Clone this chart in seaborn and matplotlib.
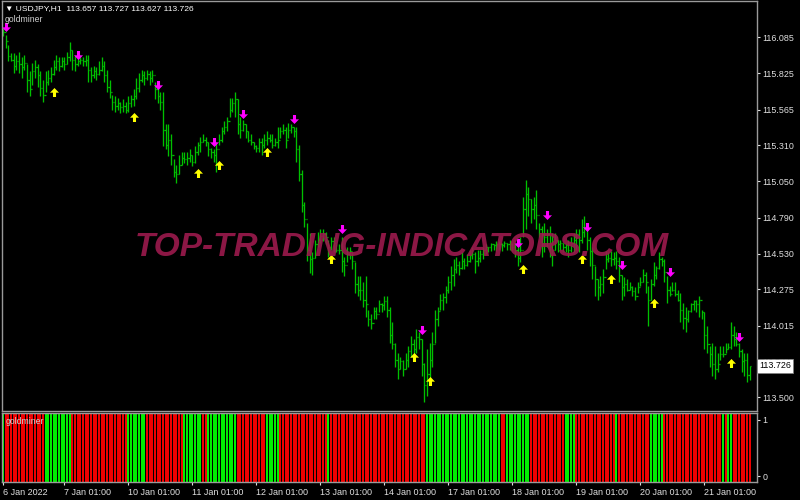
import matplotlib
matplotlib.use("Agg")
import matplotlib.pyplot as plt
import matplotlib.transforms as mtransforms
from matplotlib.path import Path
import numpy as np
import seaborn as sns

# === Data: USDJPY H1, 281 bars ===
closes = [
    116.12, 116.06, 115.95, 115.92, 115.88, 115.91, 115.89, 115.87, 115.90, 115.78,
    115.71, 115.84, 115.87, 115.81, 115.72, 115.67, 115.76, 115.79, 115.82, 115.87,
    115.91, 115.88, 115.91, 115.89, 115.94, 115.99, 115.92, 115.89, 115.91, 115.92,
    115.91, 115.92, 115.85, 115.81, 115.84, 115.82, 115.85, 115.88, 115.81, 115.73,
    115.69, 115.62, 115.59, 115.61, 115.58, 115.59, 115.56, 115.61, 115.64, 115.66,
    115.72, 115.78, 115.81, 115.79, 115.82, 115.79, 115.81, 115.71, 115.66, 115.62,
    115.42, 115.31, 115.35, 115.24, 115.12, 115.10, 115.17, 115.22, 115.21, 115.22,
    115.24, 115.19, 115.26, 115.31, 115.33, 115.35, 115.33, 115.28, 115.26, 115.24,
    115.28, 115.35, 115.41, 115.44, 115.48, 115.56, 115.61, 115.64, 115.46, 115.42,
    115.46, 115.41, 115.35, 115.33, 115.30, 115.29, 115.33, 115.31, 115.35, 115.36,
    115.35, 115.31, 115.33, 115.35, 115.41, 115.42, 115.35, 115.42, 115.44, 115.41,
    115.28, 115.10, 114.88, 114.78, 114.56, 114.49, 114.50, 114.60, 114.63, 114.66,
    114.67, 114.65, 114.58, 114.62, 114.61, 114.56, 114.56, 114.48, 114.45, 114.53,
    114.55, 114.48, 114.31, 114.27, 114.27, 114.20, 114.17, 114.06, 114.03, 114.12,
    114.10, 114.17, 114.16, 114.19, 114.13, 113.95, 113.88, 113.77, 113.70, 113.76,
    113.70, 113.77, 113.83, 113.88, 113.85, 113.93, 113.92, 113.74, 113.59, 113.67,
    113.77, 113.88, 114.06, 114.12, 114.20, 114.22, 114.27, 114.33, 114.38, 114.42,
    114.45, 114.43, 114.48, 114.45, 114.48, 114.52, 114.53, 114.48, 114.50, 114.53,
    114.56, 114.58, 114.58, 114.60, 114.59, 114.60, 114.60, 114.59, 114.61, 114.60,
    114.60, 114.58, 114.56, 114.50, 114.56, 114.85, 114.96, 114.92, 114.85, 114.88,
    114.81, 114.71, 114.67, 114.65, 114.67, 114.60, 114.56, 114.63, 114.60, 114.61,
    114.58, 114.59, 114.56, 114.61, 114.63, 114.67, 114.63, 114.69, 114.72, 114.63,
    114.55, 114.45, 114.35, 114.29, 114.31, 114.36, 114.49, 114.50, 114.49, 114.50,
    114.48, 114.38, 114.29, 114.31, 114.27, 114.29, 114.26, 114.23, 114.29, 114.33,
    114.38, 114.33, 114.20, 114.31, 114.38, 114.43, 114.49, 114.48, 114.40, 114.27,
    114.24, 114.27, 114.24, 114.20, 114.13, 114.07, 114.06, 114.12, 114.17, 114.19,
    114.17, 114.20, 114.11, 113.95, 113.88, 113.81, 113.74, 113.70, 113.74, 113.81,
    113.81, 113.85, 113.86, 113.95, 113.92, 113.88, 113.83, 113.76, 113.77, 113.657,
    113.726,
]
highs = [
    116.15, 116.10, 116.03, 115.97, 115.97, 115.96, 115.98, 115.94, 115.96, 115.89,
    115.84, 115.90, 115.92, 115.89, 115.84, 115.78, 115.84, 115.85, 115.87, 115.92,
    115.96, 115.94, 115.94, 115.94, 115.98, 116.05, 115.99, 115.96, 115.94, 115.96,
    115.94, 115.96, 115.96, 115.87, 115.88, 115.87, 115.91, 115.94, 115.91, 115.85,
    115.78, 115.67, 115.66, 115.65, 115.62, 115.64, 115.62, 115.66, 115.67, 115.71,
    115.79, 115.83, 115.85, 115.84, 115.85, 115.84, 115.85, 115.76, 115.72, 115.69,
    115.69, 115.46, 115.46, 115.39, 115.21, 115.17, 115.24, 115.26, 115.26, 115.26,
    115.28, 115.24, 115.30, 115.33, 115.37, 115.39, 115.37, 115.33, 115.29, 115.28,
    115.33, 115.39, 115.44, 115.48, 115.51, 115.65, 115.65, 115.69, 115.64, 115.51,
    115.49, 115.46, 115.41, 115.39, 115.33, 115.31, 115.36, 115.36, 115.39, 115.41,
    115.39, 115.39, 115.36, 115.44, 115.44, 115.46, 115.44, 115.47, 115.46, 115.44,
    115.44, 115.31, 115.13, 114.90, 114.75, 114.68, 114.54, 114.63, 114.69, 114.71,
    114.71, 114.69, 114.63, 114.65, 114.65, 114.60, 114.60, 114.65, 114.51, 114.58,
    114.58, 114.54, 114.47, 114.37, 114.37, 114.33, 114.37, 114.13, 114.10, 114.15,
    114.15, 114.20, 114.18, 114.23, 114.23, 114.15, 114.04, 113.89, 113.82, 113.79,
    113.77, 113.82, 113.87, 113.94, 113.92, 113.99, 113.97, 113.92, 113.75, 113.85,
    113.89, 113.97, 114.13, 114.15, 114.24, 114.25, 114.30, 114.37, 114.44, 114.49,
    114.51, 114.48, 114.54, 114.50, 114.53, 114.56, 114.58, 114.54, 114.56, 114.56,
    114.58, 114.60, 114.58, 114.61, 114.60, 114.62, 114.62, 114.61, 114.62, 114.61,
    114.63, 114.61, 114.61, 114.58, 114.65, 114.94, 115.06, 115.01, 114.92, 114.94,
    114.99, 114.75, 114.73, 114.75, 114.71, 114.73, 114.68, 114.68, 114.63, 114.63,
    114.61, 114.61, 114.63, 114.65, 114.68, 114.71, 114.71, 114.78, 114.80, 114.71,
    114.65, 114.58, 114.44, 114.35, 114.37, 114.42, 114.55, 114.54, 114.55, 114.54,
    114.55, 114.51, 114.38, 114.36, 114.35, 114.33, 114.30, 114.29, 114.33, 114.36,
    114.42, 114.40, 114.30, 114.35, 114.47, 114.44, 114.54, 114.51, 114.49, 114.37,
    114.30, 114.33, 114.33, 114.27, 114.25, 114.18, 114.15, 114.13, 114.18, 114.20,
    114.20, 114.23, 114.13, 114.11, 114.01, 113.87, 113.89, 113.87, 113.82, 113.87,
    113.87, 113.89, 113.89, 114.04, 114.01, 113.97, 113.89, 113.85, 113.82, 113.82,
    113.727,
]
lows = [
    116.09, 116.01, 115.91, 115.91, 115.83, 115.85, 115.83, 115.79, 115.85, 115.69,
    115.66, 115.74, 115.79, 115.73, 115.66, 115.62, 115.69, 115.74, 115.76, 115.81,
    115.85, 115.84, 115.87, 115.85, 115.89, 115.91, 115.85, 115.84, 115.88, 115.89,
    115.88, 115.88, 115.76, 115.76, 115.79, 115.78, 115.81, 115.84, 115.76, 115.69,
    115.65, 115.56, 115.55, 115.56, 115.54, 115.55, 115.54, 115.55, 115.58, 115.59,
    115.64, 115.69, 115.76, 115.74, 115.78, 115.74, 115.76, 115.64, 115.61, 115.56,
    115.30, 115.28, 115.23, 115.17, 115.08, 115.04, 115.10, 115.17, 115.18, 115.17,
    115.19, 115.16, 115.18, 115.24, 115.26, 115.33, 115.30, 115.23, 115.22, 115.19,
    115.12, 115.31, 115.33, 115.39, 115.41, 115.51, 115.55, 115.51, 115.39, 115.36,
    115.41, 115.36, 115.33, 115.31, 115.28, 115.26, 115.26, 115.24, 115.29, 115.31,
    115.33, 115.29, 115.30, 115.29, 115.36, 115.39, 115.29, 115.36, 115.40, 115.37,
    115.19, 115.05, 114.83, 114.72, 114.48, 114.39, 114.38, 114.50, 114.58, 114.61,
    114.62, 114.60, 114.51, 114.56, 114.54, 114.54, 114.53, 114.40, 114.37, 114.47,
    114.49, 114.42, 114.25, 114.23, 114.20, 114.15, 114.08, 114.01, 113.99, 114.06,
    114.06, 114.11, 114.11, 114.13, 114.08, 113.89, 113.85, 113.72, 113.63, 113.70,
    113.65, 113.70, 113.72, 113.79, 113.77, 113.82, 113.85, 113.65, 113.47, 113.51,
    113.63, 113.72, 113.89, 114.01, 114.13, 114.13, 114.18, 114.25, 114.27, 114.30,
    114.39, 114.38, 114.42, 114.42, 114.44, 114.47, 114.49, 114.39, 114.44, 114.47,
    114.49, 114.53, 114.54, 114.55, 114.56, 114.55, 114.56, 114.55, 114.58, 114.56,
    114.56, 114.55, 114.51, 114.44, 114.47, 114.65, 114.71, 114.80, 114.75, 114.78,
    114.71, 114.65, 114.51, 114.54, 114.58, 114.51, 114.44, 114.56, 114.54, 114.56,
    114.54, 114.54, 114.51, 114.54, 114.54, 114.56, 114.54, 114.61, 114.65, 114.56,
    114.44, 114.35, 114.23, 114.20, 114.23, 114.25, 114.42, 114.47, 114.44, 114.45,
    114.42, 114.33, 114.20, 114.23, 114.26, 114.27, 114.23, 114.20, 114.25, 114.30,
    114.33, 114.25, 114.01, 114.20, 114.30, 114.35, 114.42, 114.44, 114.33, 114.18,
    114.23, 114.26, 114.23, 114.19, 114.04, 113.99, 113.97, 114.04, 114.11, 114.13,
    114.11, 114.08, 114.06, 113.85, 113.82, 113.72, 113.65, 113.63, 113.68, 113.77,
    113.79, 113.82, 113.85, 113.85, 113.87, 113.87, 113.79, 113.68, 113.65, 113.61,
    113.627,
]

# goldminer signal arrows (bar index, price)
down_bars = [1, 28, 58, 79, 90, 109, 127, 157, 193, 204, 219, 232, 250, 276]
down_price = [116.16, 115.96, 115.74, 115.33, 115.53, 115.50, 114.71, 113.98,
              114.61, 114.81, 114.72, 114.45, 114.40, 113.93]
up_bars = [19, 49, 73, 81, 99, 123, 154, 160, 195, 217, 228, 244, 273]
up_price = [115.69, 115.51, 115.11, 115.17, 115.26, 114.49, 113.79, 113.62,
            114.42, 114.49, 114.35, 114.18, 113.75]

# goldminer histogram: runs of green bars (first bar, length), the rest red
green_start = [0, 16, 47, 68, 77, 99, 122, 159, 189, 211, 230, 243, 270, 272]
green_len = [1, 10, 7, 7, 11, 5, 1, 28, 9, 4, 1, 5, 1, 2]

price_ticks = [116.085, 115.825, 115.565, 115.310, 115.050, 114.790,
               114.530, 114.275, 114.015, 113.755, 113.500]
date_ticks = [0, 23, 47, 71, 95, 119, 143, 167, 191, 215, 239, 263]
date_labels = ['6 Jan 2022', '7 Jan 01:00', '10 Jan 01:00', '11 Jan 01:00',
               '12 Jan 01:00', '13 Jan 01:00', '14 Jan 01:00', '17 Jan 01:00',
               '18 Jan 01:00', '19 Jan 01:00', '20 Jan 01:00', '21 Jan 01:00']
last_price = 113.726

# === Style ===
sns.set_theme(style="dark", rc={
    'figure.facecolor': 'black', 'axes.facecolor': 'black',
    'axes.edgecolor': '#9a9a9a', 'axes.linewidth': 1.0, 'axes.grid': False,
    'text.color': 'white', 'xtick.color': '#d8d8d8', 'ytick.color': '#d8d8d8',
})
plt.rcParams['font.family'] = ['Liberation Sans', 'DejaVu Sans']

BAR_GREEN = '#00c000'
n = len(closes)
idx = np.arange(n)
opens = [closes[0]] + closes[:-1]
opens[-1] = 113.657

fig = plt.figure(figsize=(8, 5), dpi=100)
ax = fig.add_axes([0.002, 0.178, 0.944, 0.82])
ax2 = fig.add_axes([0.002, 0.036, 0.944, 0.138])

# === Price bars (OHLC) ===
ax.vlines(idx, lows, highs, color=BAR_GREEN, lw=0.95)
ax.hlines(opens, idx - 0.45, idx, color=BAR_GREEN, lw=0.9)
ax.hlines(closes, idx, idx + 0.45, color=BAR_GREEN, lw=0.9)

# === Arrows ===
dn = Path([(-0.17, 0.5), (0.17, 0.5), (0.17, 0.02), (0.5, 0.02), (0, -0.5),
           (-0.5, 0.02), (-0.17, 0.02), (-0.17, 0.5)],
          [Path.MOVETO] + [Path.LINETO] * 6 + [Path.CLOSEPOLY])
up = Path([(x, -y) for x, y in dn.vertices], dn.codes)
sns.scatterplot(x=down_bars, y=down_price, marker=dn, s=42, color='#ff00ff',
                linewidth=0, ax=ax, zorder=5)
sns.scatterplot(x=up_bars, y=up_price, marker=up, s=42, color='#ffff00',
                linewidth=0, ax=ax, zorder=5)

ax.set_xlim(-0.5, 282.7)
ax.set_ylim(113.402, 116.344)
ax.set_xticks([])
ax.set_yticks(price_ticks)
ax.set_yticklabels([f'{p:.3f}' for p in price_ticks])
ax.yaxis.tick_right()
ax.tick_params(axis='y', right=True, left=False, length=2, width=0.8,
               pad=2, labelsize=6.4, colors='#e0e0e0')
ax.set_xlabel('')
ax.set_ylabel('')

# last price label
trans = mtransforms.blended_transform_factory(ax.transAxes, ax.transData)
ax.text(1.003, last_price, f'{last_price:.3f}', transform=trans, ha='left',
        va='center', fontsize=6.4, color='black', clip_on=False, zorder=10,
        bbox=dict(boxstyle='square,pad=0.25', facecolor='white',
                  edgecolor='#808080', linewidth=0.6))

# === goldminer histogram ===
colors = ['#f00000'] * n
for s, l in zip(green_start, green_len):
    for k in range(s, s + l):
        colors[k] = '#00ee00'
ax2.bar(idx, 1.22, bottom=-0.10, width=0.72, color=colors, linewidth=0)
ax2.set_xlim(-0.5, 282.7)
ax2.set_ylim(-0.10, 1.12)
ax2.set_yticks([0, 1])
ax2.set_yticklabels(['0', '1'])
ax2.yaxis.tick_right()
ax2.tick_params(axis='y', right=True, left=False, length=2, width=0.8,
                pad=2, labelsize=6.4, colors='#e0e0e0')
ax2.set_xticks(date_ticks)
ax2.set_xticklabels(date_labels)
ax2.tick_params(axis='x', bottom=True, length=2.5, width=0.8, pad=2,
                labelsize=6.5, colors='#e0e0e0')
for lab in ax2.get_xticklabels():
    lab.set_horizontalalignment('left')
ax2.text(0.005, 0.87, 'goldminer', transform=ax2.transAxes, fontsize=6.2,
         color='#d0d0d0', ha='left', va='center')

# === Header, labels, watermark ===
fig.text(0.006, 0.982, '\u25bc USDJPY,H1  113.657 113.727 113.627 113.726',
         fontsize=6.1, color='white', ha='left', va='center')
fig.text(0.006, 0.962, 'goldminer', fontsize=6.2, color='#d0d0d0',
         ha='left', va='center')
fig.text(0.5025, 0.504, 'TOP-TRADING-INDICATORS.COM', fontsize=24,
         fontweight='bold', fontstyle='italic', color='#9c1a4d', alpha=0.9,
         ha='center', va='center', zorder=20)

fig.savefig('out.png', dpi=100, facecolor='black')
